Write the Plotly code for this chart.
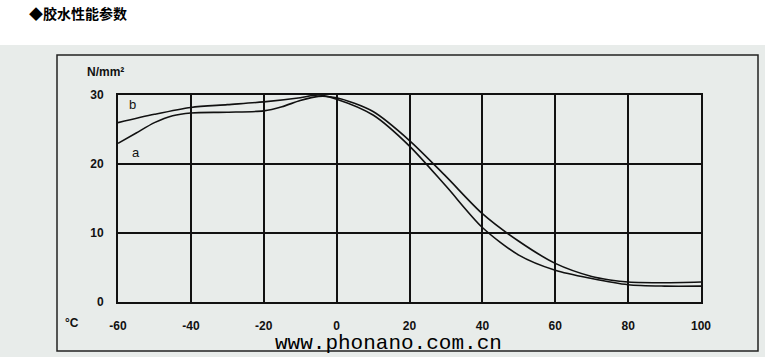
import plotly.graph_objects as go

temp_a = [-60, -55, -50, -45, -40, -30, -20, -15, -10, -5, 0, 10, 20, 30, 40, 50, 60, 70, 75, 80, 90, 100]
val_a = [23.0, 24.5, 26.0, 27.0, 27.4, 27.5, 27.7, 28.3, 29.2, 29.8, 29.6, 27.6, 23.4, 18.2, 12.8, 8.8, 5.6, 3.7, 3.2, 2.9, 2.8, 2.9]
temp_b = [-60, -50, -40, -30, -20, -10, -5, 0, 10, 20, 30, 40, 50, 60, 70, 80, 90, 100]
val_b = [26.0, 27.2, 28.2, 28.6, 29.0, 29.6, 30.0, 29.4, 27.1, 22.6, 16.8, 10.8, 6.8, 4.6, 3.4, 2.5, 2.3, 2.3]
x_ticks = [-60, -40, -20, 0, 20, 40, 60, 80, 100]
y_ticks = [0, 10, 20, 30]

BG = "#e8ecea"
fig = go.Figure()
fig.add_trace(go.Scatter(x=temp_a, y=val_a, mode="lines", line=dict(color="#111", width=1.6, shape="spline", smoothing=0.8), showlegend=False))
fig.add_trace(go.Scatter(x=temp_b, y=val_b, mode="lines", line=dict(color="#111", width=1.6, shape="spline", smoothing=0.8), showlegend=False))

tickfont = dict(family="Liberation Sans, Arial", size=12, color="#111")
fig.update_layout(
    width=778, height=362,
    margin=dict(l=118, r=77, t=95, b=60),
    paper_bgcolor="white", plot_bgcolor=BG,
    xaxis=dict(range=[-60, 100], tickvals=x_ticks, ticktext=[f"<b>{v}</b>" for v in x_ticks],
               showgrid=True, gridcolor="#111", gridwidth=1.6, zeroline=False,
               showline=True, linecolor="#111", linewidth=1.8, mirror=True,
               ticks="", tickfont=tickfont, ticklabelstandoff=12),
    yaxis=dict(range=[0, 30], tickvals=y_ticks, ticktext=[f"<b>{v}</b>" for v in y_ticks],
               showgrid=True, gridcolor="#111", gridwidth=1.6, zeroline=False,
               showline=True, linecolor="#111", linewidth=1.8, mirror=True,
               ticks="", tickfont=tickfont, ticklabelstandoff=10),
    shapes=[
        dict(type="rect", xref="paper", yref="paper", layer="below",
             x0=-118/583, x1=1 + 64/583, y0=-55/207, y1=1 + 50/207,
             fillcolor=BG, line=dict(width=0)),
        dict(type="rect", xref="paper", yref="paper", layer="above",
             x0=-61/583, x1=1 + 57/583, y0=-49/207, y1=1 + 40/207,
             line=dict(color="#222", width=1.5)),
    ],
    annotations=[
        dict(text="<b>◆胶水性能参数</b>", xref="paper", yref="paper", x=-91/583, y=1 + 82/207,
             xanchor="left", yanchor="middle", showarrow=False,
             font=dict(family="Noto Sans CJK SC", size=14, color="#000")),
        dict(text="<b>N/mm²</b>", xref="paper", yref="paper", x=-33/583, y=1 + 23/207,
             xanchor="left", yanchor="middle", showarrow=False,
             font=dict(family="Liberation Sans, Arial", size=12, color="#111")),
        dict(text="<b>°C</b>", xref="paper", yref="paper", x=-55/583, y=-21/207,
             xanchor="left", yanchor="middle", showarrow=False,
             font=dict(family="Liberation Sans, Arial", size=12, color="#111")),
        dict(text="b", x=-56, y=28.6, showarrow=False, xanchor="center", yanchor="middle",
             font=dict(family="Liberation Sans, Arial", size=13, color="#111")),
        dict(text="a", x=-55, y=21.6, showarrow=False, xanchor="center", yanchor="middle",
             font=dict(family="Liberation Sans, Arial", size=13, color="#111")),
        dict(text="www.phonano.com.cn", xref="paper", yref="paper", x=(388 - 118) / 583, y=-41/207,
             xanchor="center", yanchor="middle", showarrow=False,
             font=dict(family="Liberation Mono, DejaVu Sans Mono", size=21, color="#000")),
    ],
)
fig.write_html("out.html")
